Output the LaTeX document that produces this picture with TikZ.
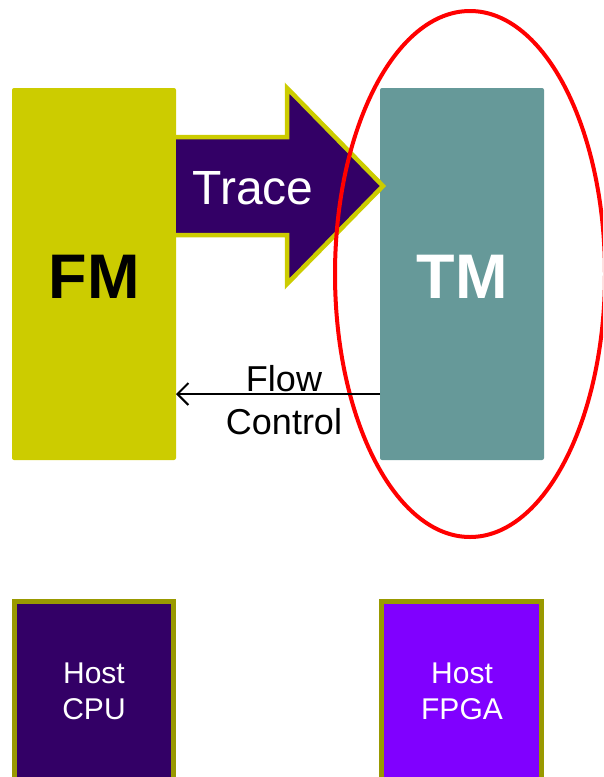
\documentclass[tikz,border=0pt]{standalone}
\usepackage{fontspec}
\setmainfont{Liberation Sans}
\usetikzlibrary{arrows.meta,shapes.geometric}
\definecolor{fmyellow}{HTML}{CCCC00}
\definecolor{tmteal}{HTML}{669999}
\definecolor{tracepurple}{HTML}{330066}
\definecolor{fpgapurple}{HTML}{8000FF}
\definecolor{hostborder}{HTML}{999900}
\begin{document}
\begin{tikzpicture}[x=1pt,y=-1pt,
  bigbox/.style={rectangle, rounded corners=2pt, inner sep=0pt, outer sep=0pt,
    minimum width=164pt, minimum height=372pt},
  bigtext/.style={font=\fontsize{63}{63}\selectfont\bfseries},
  hostbox/.style={rectangle, draw=hostborder, line width=5pt, inner sep=0pt,
    minimum width=159pt, minimum height=200pt, fill=tracepurple},
  hosttext/.style={text=white, align=center, font=\fontsize{30}{36}\selectfont},
  ring/.style={ellipse, draw=red, line width=4pt, inner sep=0pt,
    minimum width=270pt, minimum height=526pt},
  fcarrow/.style={line width=2pt, -{Straight Barb[length=11pt,width=22pt,line width=2pt]}},
]
\clip (0,0) rectangle (603,777);
\useasboundingbox (0,0) rectangle (603,777);

% main boxes
\node[bigbox, fill=fmyellow] (fm) at (94,274) {};
\node[bigbox, fill=tmteal] (tm) at (462,274) {};
\node[bigtext, text=black] (fmlabel) at (94,277) {FM};
\node[bigtext, text=white] (tmlabel) at (462,277) {TM};

% trace arrow
\fill[tracepurple] (176,137) -- (287,137) -- (287,88) -- (383,186) -- (287,284) -- (287,235) -- (176,235) -- cycle;
\draw[fmyellow, line width=4.5pt, line join=miter] (176,137) -- (287,137) -- (287,88) -- (383,186) -- (287,284) -- (287,235) -- (176,235);
\node[text=white, font=\fontsize{48}{48}\selectfont] (trace) at (253,188) {Trace};

% red ellipse
\node[ring] (ring) at (470,274) {};

% flow control
\coordinate (fcy) at (0,394);
\draw[fcarrow] (tm.west |- fcy) -- (fm.east |- fcy);
\node[align=center, font=\fontsize{36}{43}\selectfont, inner sep=0pt] (fclabel) at (284,400) {Flow\\Control};

% host boxes
\node[hostbox] (cpu) at (94,701.5) {};
\node[hostbox, fill=fpgapurple, minimum width=160pt] (fpga) at (461.5,701.5) {};
\node[hosttext] (cpulabel) at (94,691) {Host\\CPU};
\node[hosttext] (fpgalabel) at (462,691) {Host\\FPGA};
\end{tikzpicture}
\end{document}
